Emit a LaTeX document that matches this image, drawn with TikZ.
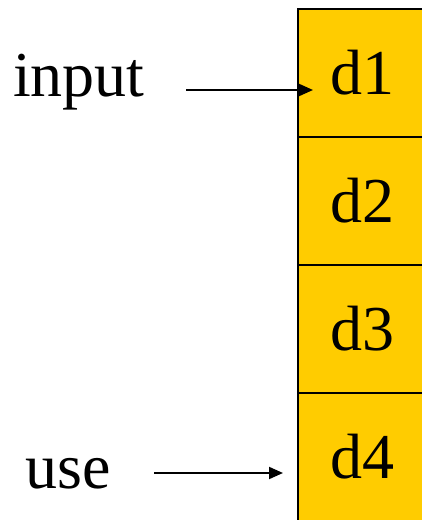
\documentclass[tikz,border=0pt]{standalone}
\usepackage{fontspec}
\setmainfont{Liberation Serif}
\usetikzlibrary{positioning,arrows.meta}

\tikzset{
	cell/.style={draw, line width=2pt, fill=gold, minimum width=140pt, minimum height=128pt, inner sep=0pt, outer sep=0pt, font=\fontsize{64}{70}\selectfont},
	lbl/.style={inner sep=0pt, anchor=base west, font=\fontsize{64}{70}\selectfont},
	arr/.style={line width=2pt, -{Triangle[length=14pt,width=12pt]}}
}
\definecolor{gold}{RGB}{255,204,0}

\begin{document}
\begin{tikzpicture}[x=1pt, y=1pt]
	\useasboundingbox (0,0) rectangle (422,520);
	\clip (0,0) rectangle (422,520);
	% stack of cells
	\node[cell, anchor=north west] (d1) at (298,511) {\hspace*{-12pt}d1};
	\node[cell, below=0pt of d1] (d2) {\hspace*{-12pt}d2};
	\node[cell, below=0pt of d2] (d3) {\hspace*{-12pt}d3};
	\node[cell, below=0pt of d3] (d4) {\hspace*{-12pt}d4};
	% labels
	\node[lbl] (inp) at (13,423) {input};
	\node[lbl] (use) at (25,31) {use};
	\coordinate (inA) at (186,430);
	\coordinate (inB) at (313,430);
	\coordinate (useA) at (154,47);
	\coordinate (useB) at (283,47);
	\draw[arr] (inA) -- (inB);
	\draw[arr] (useA) -- (useB);
\end{tikzpicture}
\end{document}
